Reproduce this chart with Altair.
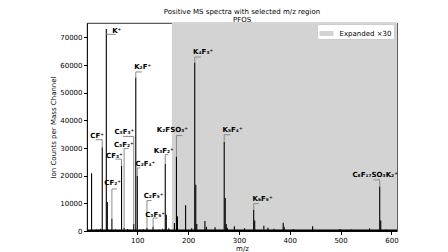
import altair as alt
import pandas as pd

# ---- spectrum peaks: m/z and plotted ion counts (region > m/z 168 shown expanded x30)
peak_mz = [10, 12, 19, 24, 28, 31, 35, 39, 41, 43, 45, 50, 57, 62, 69, 74, 81, 85, 88,
           93, 97, 100, 105, 112, 119, 124, 131, 143, 150, 155, 157, 162,
           173, 177, 179, 195, 207, 213, 215, 217, 233, 236, 253, 271, 273, 275, 277,
           291, 311, 329, 331, 349, 357, 369, 387, 389, 407, 445, 499, 521, 557,
           577, 579, 589]
peak_counts = [20900, 400, 600, 500, 800, 30300, 400, 73000, 10500, 500, 300, 4500, 600, 300,
               23500, 1200, 700, 300, 300,
               2500, 55500, 20000, 500, 600, 1200, 400, 1500, 500, 800, 24300, 5900, 1000,
               2900, 26900, 5300, 9300, 1000, 60900, 16700, 2500, 3600, 1500, 1400,
               32300, 11900, 2500, 1200,
               1700, 1000, 7700, 3800, 1900, 1200, 800, 3000, 1500, 700, 1700, 700, 500, 900,
               16100, 3800, 500]

# ---- annotations
label_text = ["K⁺", "CF⁺", "CF₂⁺", "CF₃⁺", "C₃F₂⁺", "C₃F₃⁺", "K₂F⁺", "C₂F₄⁺",
              "C₂F₅⁺", "C₃F₅⁺", "K₃F₂⁺", "K₂FSO₃⁺", "K₄F₃⁺", "K₅F₄⁺", "K₆F₅⁺",
              "C₈F₁₇SO₃K₂⁺"]
label_mz = [39, 31, 50, 69, 74, 93, 97, 100, 119, 131, 155, 177, 213, 271, 329, 577]
label_peak = [73000, 30300, 4500, 23500, 1200, 2500, 55500, 20000, 1200, 1500, 24300,
              26900, 60900, 32300, 7700, 16100]
label_x = [59.5, 21, 51.5, 55, 73.5, 74.5, 110.5, 116, 132, 135, 152, 169, 229.5,
           287.5, 346.5, 568]
label_y = [72400, 34200, 17400, 27200, 31200, 35800, 59200, 24200, 12500, 5900, 29100,
           36600, 64700, 36600, 11700, 20100]
bracket_x1 = [39, 18, 50, 57, 74, 72, 97, 100, 119, 131, 155, 177, 213, 271, 329, 565]
bracket_x2 = [58, 31, 60, 69, 83, 93, 109, 106, 128, 140, 161, 189, 225, 283, 339, 577]
bracket_y = [71100, 33000, 15200, 26000, 29800, 34200, 57500, 22800, 11000, 4700, 27600,
             34500, 62900, 34800, 9900, 18500]

# expanded region
span_start = [168]
span_end = [611]
span_label = ["Expanded ×30"]

x_ticks = [100, 200, 300, 400, 500, 600]
y_ticks = [0, 10000, 20000, 30000, 40000, 50000, 60000, 70000]

peaks = pd.DataFrame({"mz": peak_mz, "count": peak_counts})
labels = pd.DataFrame({"label": label_text, "m": label_mz, "h": label_peak,
                       "tx": label_x, "ty": label_y, "bx1": bracket_x1,
                       "bx2": bracket_x2, "by": bracket_y})
span = pd.DataFrame({"s": span_start, "e": span_end, "name": span_label})

W, H = 310, 208
xs = alt.Scale(domain=[1, 611], nice=False, zero=False)
ys = alt.Scale(domain=[0, 75200], nice=False)

xax = alt.Axis(values=x_ticks, title="m/z", grid=False)
yax = alt.Axis(values=y_ticks, format="d", title="Ion Counts per Mass Channel", grid=False,
               labelOverlap=False)

shade = alt.Chart(span).mark_rect(opacity=1, clip=True).encode(
    x=alt.X("s:Q", scale=xs, axis=xax),
    x2="e:Q",
    y=alt.value(0),
    y2=alt.value(H),
    color=alt.Color("name:N", scale=alt.Scale(range=["#d3d3d3"]),
                    legend=alt.Legend(title=None, orient="none", legendX=230, legendY=1,
                                      symbolType="M-1,-0.36L1,-0.36L1,0.36L-1,0.36Z",
                                      symbolSize=196, symbolStrokeWidth=0,
                                      symbolOpacity=1, labelFontSize=7,
                                      labelFont="DejaVu Sans", labelColor="black",
                                      labelOffset=6, fillColor="white",
                                      strokeColor="#cccccc", cornerRadius=2,
                                      padding=2.5)),
)

lines = alt.Chart(peaks).mark_rule(color="black", strokeWidth=1.1, clip=True).transform_calculate(
    zero="0"
).encode(
    x=alt.X("mz:Q", scale=xs, axis=xax),
    y=alt.Y("zero:Q", scale=ys, axis=yax),
    y2="count:Q",
)

baseline = alt.Chart(span).mark_rule(color="black", strokeWidth=1.8).encode(
    x=alt.value(0), x2=alt.value(W), y=alt.value(H - 0.5)
)

hbr = alt.Chart(labels).mark_rule(color="#8a8a8a", strokeWidth=1).encode(
    x=alt.X("bx1:Q", scale=xs, axis=xax), x2="bx2:Q", y=alt.Y("by:Q", scale=ys, axis=yax)
)
vbr = alt.Chart(labels).transform_filter("datum.by > datum.h").mark_rule(
    color="#8a8a8a", strokeWidth=1).encode(
    x=alt.X("m:Q", scale=xs, axis=xax), y=alt.Y("by:Q", scale=ys, axis=yax), y2="h:Q"
)
txt = alt.Chart(labels).mark_text(font="DejaVu Sans", fontSize=7, fontWeight="bold",
                                  align="center", baseline="middle", color="black").encode(
    x=alt.X("tx:Q", scale=xs, axis=xax), y=alt.Y("ty:Q", scale=ys, axis=yax), text="label:N"
)

chart = alt.layer(shade, lines, baseline, hbr, vbr, txt).properties(
    width=W, height=H,
    title=alt.TitleParams(["Positive MS spectra with selected m/z region", "PFOS"],
                          fontSize=7, fontWeight="normal", font="DejaVu Sans",
                          color="black", anchor="middle", offset=0, lineHeight=7.8),
    autosize=alt.AutoSizeParams(type="none"),
    padding={"left": 79, "top": 15, "right": 43, "bottom": 21},
).configure_view(stroke="black", strokeWidth=0.8).configure_axis(
    labelFont="DejaVu Sans", labelFontSize=7, labelColor="black",
    titleFont="DejaVu Sans", titleFontSize=7, titleFontWeight="normal", titleColor="black",
    tickColor="black", tickSize=3.5, domainColor="black", domainWidth=0.8,
    labelPadding=1.5,
).configure_axisY(titlePadding=3).configure_axisX(titlePadding=1)

chart.save("out.html", embed_options={"renderer": "svg", "actions": False})
